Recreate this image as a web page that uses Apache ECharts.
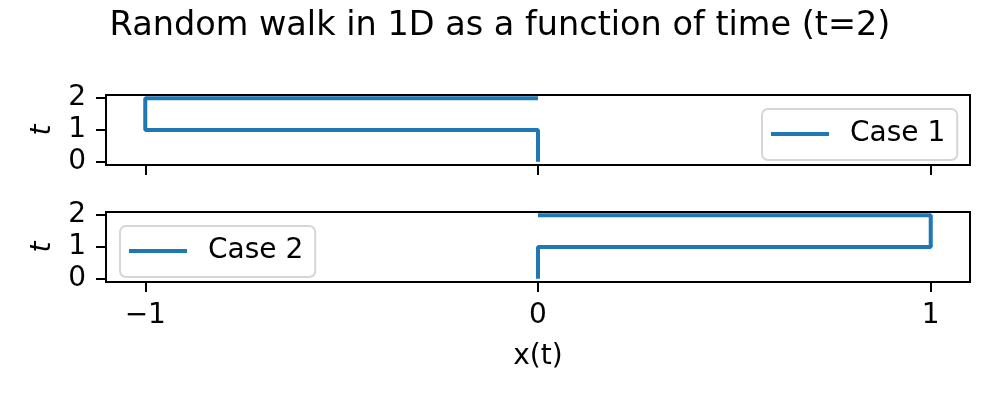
<!DOCTYPE html>
<html><head><meta charset="utf-8">
<script src="https://cdn.jsdelivr.net/npm/echarts@6/dist/echarts.min.js"></script>
<style>html,body{margin:0;padding:0;background:#fff}#c{width:1000px;height:400px}</style>
</head><body><div id="c"></div>
<script>
const titleText = 'Random walk in 1D as a function of time (t=2)';
const seriesNames = ['Case 1', 'Case 2'];
const case1X = [0, 0, -1, -1, 0];
const case1T = [0, 1, 1, 2, 2];
const case2X = [0, 0, 1, 1, 0];
const case2T = [0, 1, 1, 2, 2];
const xTicks = [-1, 0, 1];
const tTicks = [0, 1, 2];
const xName = 'x(t)';
const yName = 't';

const FONT = 'DejaVu Sans';
const BLUE = '#1f77b4';
const fmt = v => (v < 0 ? '\u2212' + Math.abs(v) : String(v));
const pts = (xs, ts) => xs.map((x, i) => [x, ts[i]]);

function xAxis(idx, showLabels) {
  return {
    type: 'value', gridIndex: idx, min: -1.1, max: 1.1,
    splitLine: {show: false},
    axisLine: {show: false, onZero: false},
    axisTick: {show: true, length: 10, lineStyle: {color: '#000', width: 2}, customValues: xTicks},
    axisLabel: {show: showLabels, customValues: xTicks, formatter: fmt, color: '#000',
      fontFamily: FONT, fontSize: 28, margin: 20},
    name: showLabels ? xName : '', nameLocation: 'middle', nameGap: 61,
    nameTextStyle: {fontFamily: FONT, fontSize: 28, color: '#000'}
  };
}
function yAxis(idx) {
  return {
    type: 'value', gridIndex: idx, min: -0.1, max: 2.1,
    splitLine: {show: false},
    axisLine: {show: false, onZero: false},
    axisTick: {show: true, length: 10, lineStyle: {color: '#000', width: 2}, customValues: tTicks},
    axisLabel: {customValues: tTicks, color: '#000', fontFamily: FONT, fontSize: 28, margin: 20,
      padding: [5, 0, 0, 0]},
    name: yName, nameLocation: 'middle', nameGap: 49, nameRotate: 90,
    nameTextStyle: {fontFamily: FONT, fontSize: 28, color: '#000', fontStyle: 'italic'}
  };
}
function legend(name, left, top) {
  return {
    data: [name], left: left, top: top, orient: 'vertical',
    icon: 'rect', itemWidth: 58, itemHeight: 4,
    backgroundColor: '#fff', borderColor: '#d6d6d6', borderWidth: 2, borderRadius: 6,
    padding: [11, 12, 12, 9],
    textStyle: {fontFamily: FONT, fontSize: 28, color: '#000', padding: [0, 0, 0, 16]}
  };
}

const chart = echarts.init(document.getElementById('c'), null, {renderer: 'canvas'});
chart.setOption({
  backgroundColor: '#fff',
  animation: false,
  title: {text: titleText, left: 'center', top: 4,
    textStyle: {fontFamily: FONT, fontSize: 33.5, fontWeight: 'normal', color: '#000'}},
  grid: [
    {left: 106, right: 30, top: 95, height: 70, show: true, borderColor: '#000', borderWidth: 2, backgroundColor: 'transparent'},
    {left: 106, right: 30, top: 212, height: 70, show: true, borderColor: '#000', borderWidth: 2, backgroundColor: 'transparent'}
  ],
  xAxis: [xAxis(0, false), xAxis(1, true)],
  yAxis: [yAxis(0), yAxis(1)],
  legend: [legend(seriesNames[0], 762, 109), legend(seriesNames[1], 120, 226)],
  series: [
    {name: seriesNames[0], type: 'line', xAxisIndex: 0, yAxisIndex: 0, data: pts(case1X, case1T),
      symbol: 'none', color: BLUE, lineStyle: {color: BLUE, width: 4}, clip: true},
    {name: seriesNames[1], type: 'line', xAxisIndex: 1, yAxisIndex: 1, data: pts(case2X, case2T),
      symbol: 'none', color: BLUE, lineStyle: {color: BLUE, width: 4}, clip: true}
  ]
});
</script></body></html>
